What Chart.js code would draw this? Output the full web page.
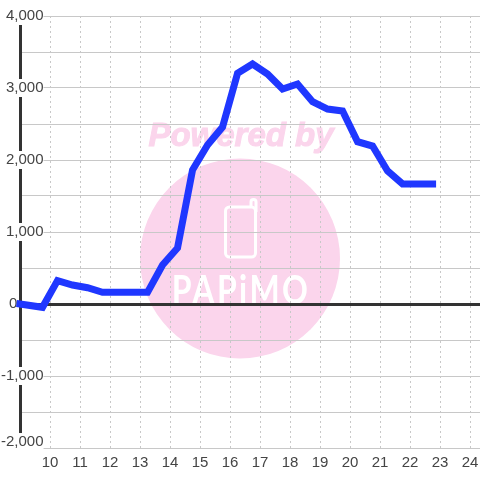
<!DOCTYPE html>
<html lang="en">
<head>
<meta charset="UTF-8">
<title>Chart</title>
<script src="https://cdn.jsdelivr.net/npm/chart.js"></script>
<style>
    html, body { margin: 0; padding: 0; background: #fff; }
    #wrap { width: 480px; height: 480px; }
</style>
</head>
<body>
<div id="wrap"><canvas id="myChart" width="480" height="480"></canvas></div>
<script>
const hours = [9, 9.75, 10.25, 10.75, 11.25, 11.75, 12.25, 12.75, 13.25, 13.75, 14.25, 14.75, 15.25, 15.75,
    16.25, 16.75, 17.25, 17.75, 18.25, 18.75, 19.25, 19.75, 20.25, 20.75, 21.25, 21.75, 22.25, 22.75];
const values = [0, -46, 325, 264, 226, 162, 162, 162, 162, 542, 778, 1861, 2208, 2458,
    3204, 3333, 3194, 2986, 3055, 2810, 2708, 2680, 2254, 2194, 1847, 1667, 1667, 1667];
const xTicks = [10, 11, 12, 13, 14, 15, 16, 17, 18, 19, 20, 21, 22, 23, 24];
// the -2,000 label sits a little above its grid line, so it gets its own tick
const bottomLabelAt = -1917;
const yTicks = [-2000, bottomLabelAt, -1500, -1000, -500, 0, 500, 1000, 1500, 2000, 2500, 3000, 3500, 4000];
const yLabelled = [-1000, 0, 1000, 2000, 3000, 4000];
const watermarkTop = 'Powered by';
const watermarkLogo = 'PAPiMO';

// pink logo sits behind the grid
const watermark = {
    id: 'watermark',
    beforeDraw(chart) {
        const ctx = chart.ctx;
        ctx.save();
        ctx.fillStyle = '#fbd5ec';
        ctx.beginPath();
        ctx.arc(240, 258.5, 100, 0, Math.PI * 2);
        ctx.fill();

        ctx.font = 'italic bold 33px "Liberation Sans"';
        ctx.textAlign = 'center';
        ctx.textBaseline = 'alphabetic';
        ctx.strokeStyle = '#fbd5ec';
        ctx.lineWidth = 1;
        ctx.fillText(watermarkTop, 241, 146);
        ctx.strokeText(watermarkTop, 241, 146);

        ctx.strokeStyle = '#fff';
        ctx.lineWidth = 3;
        ctx.beginPath();
        ctx.roundRect(225.5, 207, 30, 50, 4);
        ctx.stroke();
        ctx.beginPath();
        ctx.moveTo(251, 207);
        ctx.lineTo(251, 202);
        ctx.arc(253.5, 202, 2.5, Math.PI, 0);
        ctx.lineTo(256, 212);
        ctx.stroke();

        ctx.fillStyle = '#fff';
        ctx.font = 'bold 40px "Lato"';
        ctx.letterSpacing = '3px';
        ctx.translate(241, 304);
        ctx.scale(0.8, 1);
        ctx.fillText(watermarkLogo, 0, 0);
        ctx.restore();
    }
};

new Chart(document.getElementById('myChart'), {
    type: 'line',
    data: {
        datasets: [{
            data: hours.map((h, i) => ({ x: h, y: values[i] })),
            borderColor: '#1f37ff',
            borderWidth: 7,
            borderCapStyle: 'square',
            borderJoinStyle: 'miter',
            pointRadius: 0,
            tension: 0,
            clip: false
        }]
    },
    options: {
        responsive: false,
        animation: false,
        layout: { autoPadding: false, padding: { top: 16, left: 0, right: 0, bottom: 0 } },
        plugins: { legend: { display: false }, tooltip: { enabled: false } },
        scales: {
            x: {
                type: 'linear',
                min: 9,
                max: 24.33,
                afterBuildTicks: s => { s.ticks = xTicks.map(v => ({ value: v })); },
                afterFit: s => { s.height = 32; },
                // invisible tick marks push the labels down without adding side padding
                grid: { color: '#c8c8c8', lineWidth: 1, drawTicks: true, tickLength: 5, tickColor: 'rgba(0,0,0,0)' },
                border: { display: false, dash: [2, 3] },
                ticks: {
                    autoSkip: false,
                    maxRotation: 0,
                    padding: 1,
                    color: '#444',
                    font: { family: '"Liberation Sans"', size: 15 },
                    callback: v => String(v)
                }
            },
            y: {
                type: 'linear',
                min: -2000,
                max: 4000,
                afterBuildTicks: s => { s.ticks = yTicks.map(v => ({ value: v })); },
                afterFit: s => { s.width = 20; },
                grid: {
                    color: c => {
                        if (!c.tick) return '#c8c8c8';
                        if (c.tick.value === bottomLabelAt) return 'rgba(0,0,0,0)';
                        return c.tick.value === 0 ? '#333' : '#c8c8c8';
                    },
                    lineWidth: c => (c.tick && c.tick.value === 0 ? 3 : 1),
                    drawTicks: false
                },
                border: { display: true, color: '#333', width: 3 },
                ticks: {
                    autoSkip: false,
                    mirror: true,
                    crossAlign: 'far',
                    padding: -19,
                    color: '#444',
                    font: { family: '"Liberation Sans"', size: 15 },
                    showLabelBackdrop: true,
                    backdropPadding: 0,
                    backdropColor: c => (c.tick.value === 0 ? 'rgba(0,0,0,0)' : '#fff'),
                    callback: v => {
                        if (v === bottomLabelAt) return '-2,000';
                        if (!yLabelled.includes(v)) return '';
                        if (v === 0) return '0\u00A0\u00A0\u00A0\u00A0\u00A0\u00A0\u200A';
                        return v.toLocaleString('en-US');
                    }
                }
            }
        }
    },
    plugins: [watermark]
});
</script>
</body>
</html>
